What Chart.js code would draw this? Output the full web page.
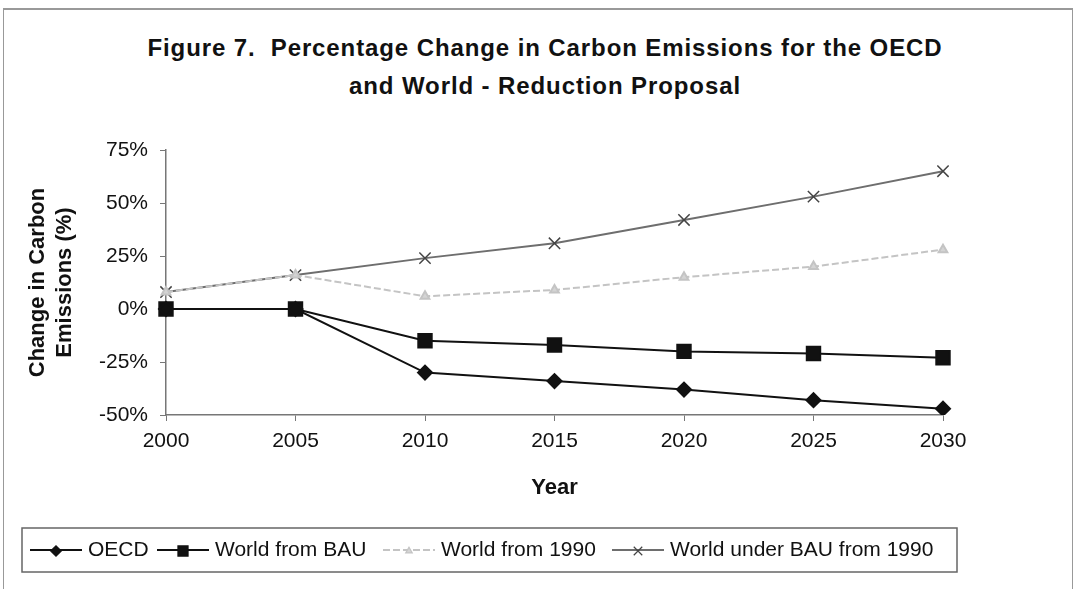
<!DOCTYPE html>
<html>
<head>
<meta charset="utf-8">
<script src="https://cdn.jsdelivr.net/npm/chart.js@4/dist/chart.umd.min.js"></script>
<style>
  body { margin: 0; background: #fff; }
  #wrap { position: relative; width: 1075px; height: 589px; overflow: hidden; }
  #frame { position: absolute; left: 3px; top: 8px; width: 1068px; height: 600px; border: 1px solid #999; border-width: 2px 1px 0 1px; }
  #title { position: absolute; left: 0; top: 29px; width: 1090px; text-align: center; letter-spacing: 0.9px;
           font: bold 24px "Liberation Sans", Arial, sans-serif; line-height: 38px; color: #111; }
  canvas { position: absolute; left: 0; top: 0; }
</style>
</head>
<body>
<div id="wrap">
  <div id="frame"></div>
  <div id="title">Figure 7.&nbsp; Percentage Change in Carbon Emissions for the OECD<br>and World - Reduction Proposal</div>
  <canvas id="myChart" width="1075" height="589"></canvas>
</div>
<script>
var years = ['2000', '2005', '2010', '2015', '2020', '2025', '2030'];
var oecd = [0, 0, -30, -34, -38, -43, -47];
var worldBau = [0, 0, -15, -17, -20, -21, -23];
var world1990 = [8, 16, 6, 9, 15, 20, 28];
var worldUnderBau1990 = [8, 16, 24, 31, 42, 53, 65];
var yTicks = [-50, -25, 0, 25, 50, 75];

var font = '"Liberation Sans", Arial, sans-serif';

// legend drawn under the plot: line segment with the marker in the middle
var legendBox = {
    id: 'legendBox',
    afterDraw: function (chart) {
        var ctx = chart.ctx;
        var top = 528, bottom = 572, mid = 550;
        ctx.save();
        ctx.strokeStyle = '#666';
        ctx.lineWidth = 1.5;
        ctx.strokeRect(22, top, 935, bottom - top);
        var xs = [30, 157, 383, 612];
        ctx.font = '21px ' + font;
        ctx.textBaseline = 'middle';
        chart.data.datasets.forEach(function (ds, i) {
            var x = xs[i];
            ctx.save();
            ctx.strokeStyle = ds.borderColor;
            ctx.lineWidth = ds.borderWidth;
            ctx.setLineDash(ds.borderDash || []);
            ctx.beginPath();
            ctx.moveTo(x, mid);
            ctx.lineTo(x + 52, mid);
            ctx.stroke();
            ctx.setLineDash([]);
            ctx.fillStyle = ds.pointBackgroundColor;
            ctx.strokeStyle = ds.pointBorderColor;
            ctx.lineWidth = 1.2;
            Chart.helpers.drawPoint(ctx, {
                pointStyle: ds.pointStyle,
                radius: ds.pointRadius * 0.75,
                rotation: 0,
                borderWidth: 1.2
            }, x + 26, mid + 1);
            ctx.restore();
            ctx.fillStyle = '#111';
            ctx.fillText(ds.label, x + 58, mid);
        });
        ctx.restore();
    }
};

var ctx = document.getElementById('myChart').getContext('2d');
var myChart = new Chart(ctx, {
    type: 'line',
    data: {
        labels: years,
        datasets: [{
            label: 'OECD',
            data: oecd,
            borderColor: '#111',
            borderWidth: 2,
            pointStyle: 'rectRot',
            pointRadius: 7,
            pointBackgroundColor: '#111',
            pointBorderColor: '#111'
        }, {
            label: 'World from BAU',
            data: worldBau,
            borderColor: '#111',
            borderWidth: 2,
            pointStyle: 'rect',
            pointRadius: 9.5,
            pointBackgroundColor: '#111',
            pointBorderColor: '#111'
        }, {
            label: 'World from 1990',
            data: world1990,
            borderColor: '#c4c4c4',
            borderWidth: 2,
            borderDash: [7, 3],
            pointStyle: 'triangle',
            pointRadius: 5,
            pointBackgroundColor: '#d4d4d4',
            pointBorderColor: '#c4c4c4'
        }, {
            label: 'World under BAU from 1990',
            data: worldUnderBau1990,
            borderColor: '#6e6e6e',
            borderWidth: 2,
            pointStyle: 'crossRot',
            pointRadius: 8,
            pointBorderWidth: 1.5,
            pointBackgroundColor: '#444',
            pointBorderColor: '#444'
        }]
    },
    options: {
        responsive: false,
        animation: false,
        layout: { padding: { left: 22, right: 132, top: 150, bottom: 84 } },
        plugins: {
            legend: { display: false },
            tooltip: { enabled: false }
        },
        scales: {
            x: {
                offset: false,
                afterFit: function (scale) { scale.height = 90; },
                grid: { drawOnChartArea: false, color: '#777', tickLength: 6 },
                border: { color: '#777', width: 1.5 },
                ticks: { color: '#111', font: { family: font, size: 21 }, padding: 8, maxRotation: 0 },
                title: { display: true, text: 'Year', color: '#111',
                         font: { family: font, size: 22, weight: 'bold' }, padding: { top: 0, bottom: 4 } }
            },
            y: {
                min: -50,
                max: 75,
                afterFit: function (scale) { scale.width = 166 - 22; },
                afterBuildTicks: function (scale) {
                    scale.ticks = yTicks.map(function (v) { return { value: v }; });
                },
                grid: { drawOnChartArea: false, color: '#777', tickLength: 6 },
                border: { color: '#777', width: 1.5 },
                ticks: {
                    color: '#111', font: { family: font, size: 21 }, padding: 12,
                    callback: function (v) { return v + '%'; }
                },
                title: { display: true, text: ['Change in Carbon', 'Emissions (%)'], color: '#111',
                         font: { family: font, size: 22, weight: 'bold' }, padding: { top: 3, bottom: 0 } }
            }
        }
    },
    plugins: [legendBox]
});
</script>
</body>
</html>
